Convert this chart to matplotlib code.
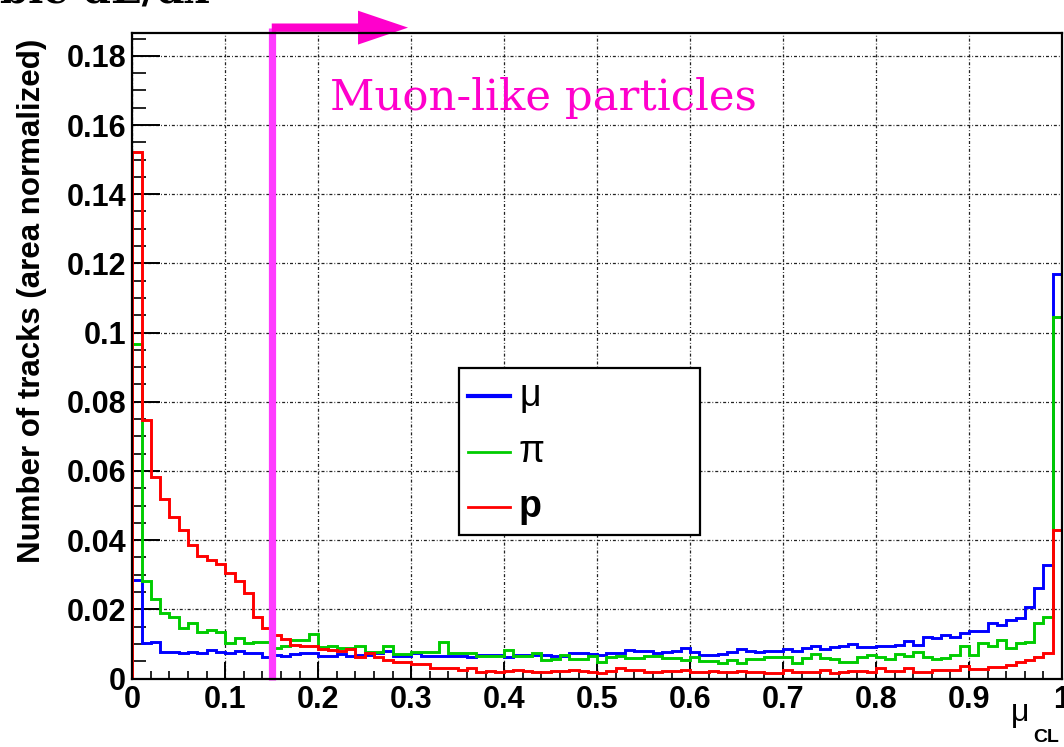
import numpy as np
import matplotlib
matplotlib.use("Agg")
import matplotlib.pyplot as plt
from matplotlib.patches import Rectangle, FancyArrow
from matplotlib.lines import Line2D
from matplotlib.ticker import MultipleLocator, FixedLocator, FixedFormatter

plt.rcParams["font.family"] = ["Liberation Sans", "DejaVu Sans"]

# 100 equal bins of the muon confidence level
bin_edges = np.linspace(0.0, 1.0, 101)

muon = [
    0.0286, 0.0102, 0.0106, 0.0078, 0.0076, 0.0073, 0.0076, 0.0073, 0.0082, 0.0076,
    0.0073, 0.0080, 0.0075, 0.0075, 0.0063, 0.0068, 0.0065, 0.0071, 0.0075, 0.0075,
    0.0066, 0.0064, 0.0071, 0.0066, 0.0068, 0.0067, 0.0075, 0.0079, 0.0065, 0.0065,
    0.0073, 0.0066, 0.0066, 0.0066, 0.0065, 0.0065, 0.0061, 0.0068, 0.0068, 0.0068,
    0.0062, 0.0068, 0.0068, 0.0068, 0.0068, 0.0065, 0.0065, 0.0075, 0.0075, 0.0071,
    0.0068, 0.0073, 0.0073, 0.0082, 0.0079, 0.0079, 0.0074, 0.0078, 0.0080, 0.0087,
    0.0076, 0.0068, 0.0068, 0.0070, 0.0076, 0.0086, 0.0080, 0.0078, 0.0080, 0.0080,
    0.0085, 0.0080, 0.0088, 0.0094, 0.0085, 0.0092, 0.0094, 0.0101, 0.0091, 0.0091,
    0.0093, 0.0095, 0.0097, 0.0109, 0.0096, 0.0119, 0.0117, 0.0126, 0.0119, 0.0131,
    0.0137, 0.0137, 0.0160, 0.0155, 0.0168, 0.0175, 0.0207, 0.0261, 0.0327, 0.1170,
]

pion = [
    0.0967, 0.0283, 0.0230, 0.0188, 0.0179, 0.0145, 0.0161, 0.0135, 0.0140, 0.0135,
    0.0102, 0.0118, 0.0104, 0.0106, 0.0106, 0.0087, 0.0094, 0.0111, 0.0111, 0.0129,
    0.0090, 0.0094, 0.0087, 0.0087, 0.0094, 0.0078, 0.0078, 0.0094, 0.0071, 0.0071,
    0.0078, 0.0078, 0.0078, 0.0106, 0.0075, 0.0075, 0.0073, 0.0065, 0.0065, 0.0065,
    0.0082, 0.0065, 0.0065, 0.0074, 0.0054, 0.0055, 0.0068, 0.0056, 0.0055, 0.0064,
    0.0049, 0.0061, 0.0065, 0.0058, 0.0058, 0.0064, 0.0066, 0.0058, 0.0058, 0.0053,
    0.0061, 0.0051, 0.0051, 0.0046, 0.0053, 0.0046, 0.0055, 0.0056, 0.0061, 0.0063,
    0.0063, 0.0044, 0.0058, 0.0071, 0.0058, 0.0055, 0.0049, 0.0049, 0.0063, 0.0068,
    0.0061, 0.0055, 0.0071, 0.0065, 0.0078, 0.0061, 0.0055, 0.0058, 0.0068, 0.0094,
    0.0068, 0.0102, 0.0094, 0.0111, 0.0087, 0.0104, 0.0106, 0.0159, 0.0179, 0.1045,
]

proton = [
    0.1523, 0.0747, 0.0583, 0.0519, 0.0466, 0.0429, 0.0386, 0.0355, 0.0344, 0.0331,
    0.0306, 0.0283, 0.0246, 0.0177, 0.0147, 0.0126, 0.0114, 0.0097, 0.0095, 0.0094,
    0.0084, 0.0082, 0.0080, 0.0086, 0.0063, 0.0073, 0.0063, 0.0053, 0.0049, 0.0049,
    0.0042, 0.0042, 0.0029, 0.0029, 0.0031, 0.0025, 0.0029, 0.0020, 0.0022, 0.0020,
    0.0022, 0.0025, 0.0022, 0.0018, 0.0020, 0.0022, 0.0022, 0.0024, 0.0022, 0.0020,
    0.0017, 0.0022, 0.0031, 0.0024, 0.0024, 0.0018, 0.0020, 0.0022, 0.0022, 0.0025,
    0.0018, 0.0020, 0.0022, 0.0018, 0.0020, 0.0022, 0.0020, 0.0020, 0.0015, 0.0016,
    0.0026, 0.0020, 0.0020, 0.0019, 0.0025, 0.0015, 0.0020, 0.0022, 0.0022, 0.0020,
    0.0029, 0.0022, 0.0022, 0.0029, 0.0020, 0.0020, 0.0025, 0.0025, 0.0025, 0.0035,
    0.0027, 0.0027, 0.0034, 0.0034, 0.0039, 0.0049, 0.0053, 0.0063, 0.0074, 0.0430,
]

series_labels = ["\u03bc", "\u03c0", "p"]
series_colors = ["#0000ff", "#00cc00", "#ff0000"]

x_ticks = [0.0, 0.1, 0.2, 0.3, 0.4, 0.5, 0.6, 0.7, 0.8, 0.9, 1.0]
x_tick_labels = ["0", "0.1", "0.2", "0.3", "0.4", "0.5", "0.6", "0.7", "0.8", "0.9", "1"]
y_ticks = [0.0, 0.02, 0.04, 0.06, 0.08, 0.10, 0.12, 0.14, 0.16, 0.18]
y_tick_labels = ["0", "0.02", "0.04", "0.06", "0.08", "0.1", "0.12", "0.14", "0.16", "0.18"]

cut_value = 0.15
y_max = 0.1866

W, H = 1064, 747
fig = plt.figure(figsize=(W / 100, H / 100), dpi=100)
fig.patch.set_facecolor("white")


def px_box(x0, y0, x1, y1):
    """Figure-fraction rectangle from pixel corners (origin at top-left)."""
    return [x0 / W, 1 - y1 / H, (x1 - x0) / W, (y1 - y0) / H]


ax = fig.add_axes(px_box(132.3, 33, 1062, 678.5))
ax.set_xlim(0, 1)
ax.set_ylim(0, y_max)

# dotted grid at major ticks
ax.set_axisbelow(True)
ax.grid(True, which="major", color="#222222", lw=0.9,
        linestyle=(0, (2.4, 1.6, 0.7, 1.6)))

# histograms
for vals, col in zip([muon, pion, proton], series_colors):
    ax.stairs(vals, bin_edges, color=col, lw=2.1, baseline=0, zorder=3,
              joinstyle="miter")

# cut line and arrow
ax.plot([cut_value, cut_value], [-0.0005, 0.18815], color="#ff3cff", lw=5.2,
        solid_capstyle="butt", clip_on=False, zorder=5)
arrow = FancyArrow(cut_value, 0.18815, 0.1466, 0.0, width=0.0024,
                   head_width=0.0098, head_length=0.0538,
                   length_includes_head=True, color="#ff00cc", lw=0, zorder=6)
arrow.set_clip_on(False)
ax.add_patch(arrow)

# axes frame and ticks
for s in ax.spines.values():
    s.set_linewidth(1.6)
    s.set_zorder(7)
ax.xaxis.set_major_locator(FixedLocator(x_ticks))
ax.xaxis.set_major_formatter(FixedFormatter(x_tick_labels))
ax.xaxis.set_minor_locator(MultipleLocator(0.02))
ax.yaxis.set_major_locator(FixedLocator(y_ticks))
ax.yaxis.set_major_formatter(FixedFormatter(y_tick_labels))
ax.yaxis.set_minor_locator(MultipleLocator(0.005))
ax.tick_params(axis="both", which="both", direction="in", top=False, right=False,
               colors="black")
ax.tick_params(axis="x", which="major", length=12.5, width=1.4, pad=5,
               labelsize=22)
ax.tick_params(axis="x", which="minor", length=6, width=1.2)
ax.tick_params(axis="y", which="major", length=20, width=1.4, pad=4.5,
               labelsize=22)
ax.tick_params(axis="y", which="minor", length=10, width=1.2)
for lab in ax.get_xticklabels() + ax.get_yticklabels():
    lab.set_fontweight("bold")

# axis titles
fig.text(32 / W, 1 - 301 / H, "Number of tracks (area normalized)", rotation=90,
         ha="center", va="center", fontsize=22.5, fontweight="bold")
fig.text(1011 / W, 1 - 721 / H, "\u03bc", ha="left", va="baseline", fontsize=23)
fig.text(1033 / W, 1 - 742 / H, "CL", ha="left", va="baseline", fontsize=14,
         fontweight="bold")

# annotations
fig.text(330 / W, 1 - 110 / H, "Muon-like particles", ha="left", va="baseline",
         fontsize=31.3, color="#ff00cc", family="DejaVu Serif")
fig.text(0 / W, 1 - 3 / H, "ble dE/dx", ha="left", va="baseline",
         fontsize=29, color="black", family="DejaVu Serif", fontweight="bold")

# legend box
leg_rect = Rectangle((459 / W, 1 - 535 / H), 241 / W, 167 / H,
                     transform=fig.transFigure, facecolor="white",
                     edgecolor="black", lw=1.6, zorder=10)
fig.add_artist(leg_rect)
leg_rows = [396, 452, 507]
leg_widths = [3.0, 2.0, 2.0]
for lab, col, yy, lw in zip(series_labels, series_colors, leg_rows, leg_widths):
    fig.add_artist(Line2D([468 / W, 510 / W], [1 - yy / H, 1 - yy / H],
                          transform=fig.transFigure, color=col, lw=lw, zorder=11))
    fig.text(519 / W, 1 - yy / H, lab, ha="left", va="center", fontsize=27,
             fontweight="bold" if lab == "p" else "normal", zorder=12)

fig.savefig("out.png", dpi=100, facecolor="white")
